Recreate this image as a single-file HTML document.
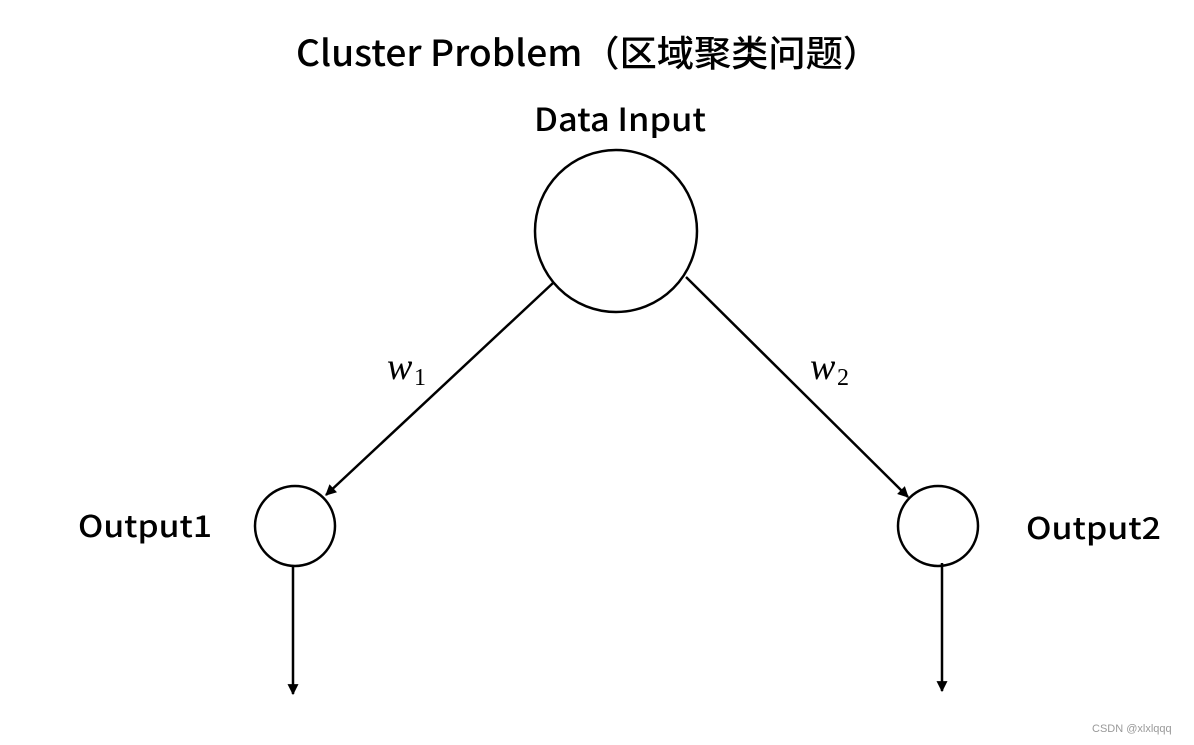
<!DOCTYPE html>
<html><head><meta charset="utf-8"><style>
html,body{margin:0;padding:0;background:#fff;}
svg{display:block;}
</style></head><body>
<svg width="1194" height="745" viewBox="0 0 1194 745" xmlns="http://www.w3.org/2000/svg">
<defs>
<marker id="ah" viewBox="0 0 10 10" refX="9" refY="5" markerWidth="12" markerHeight="11" markerUnits="userSpaceOnUse" orient="auto">
<path d="M0,0 L10,5 L0,10 z" fill="#000"/>
</marker>
</defs>
<g font-family="'Noto Sans CJK SC','Liberation Sans',sans-serif" fill="#000" font-weight="500">
<text x="296" y="66" font-size="36" textLength="584" lengthAdjust="spacingAndGlyphs">Cluster Problem（区域聚类问题）</text>
<text x="534" y="131" font-size="32" textLength="172" lengthAdjust="spacingAndGlyphs">Data Input</text>
<text x="78" y="537" font-size="30" textLength="134" lengthAdjust="spacingAndGlyphs">Output1</text>
<text x="1026" y="539" font-size="30" textLength="135" lengthAdjust="spacingAndGlyphs">Output2</text>
</g>
<g font-family="'Liberation Serif',serif" font-style="italic" fill="#000">
<text x="387" y="379" font-size="38">w</text>
<text x="414" y="385" font-size="24" font-style="normal">1</text>
<text x="810" y="379" font-size="38">w</text>
<text x="837" y="385" font-size="24" font-style="normal">2</text>
</g>
<g fill="none" stroke="#000" stroke-width="2.5">
<circle cx="616" cy="231" r="81"/>
<circle cx="295" cy="526" r="40"/>
<circle cx="938" cy="526" r="40"/>
<line x1="553" y1="283" x2="326" y2="495" marker-end="url(#ah)"/>
<line x1="686" y1="277" x2="908" y2="497" marker-end="url(#ah)"/>
<line x1="293" y1="567" x2="293" y2="694" marker-end="url(#ah)"/>
<line x1="942" y1="563" x2="942" y2="691" marker-end="url(#ah)"/>
</g>
<text x="1092" y="732" font-family="'Liberation Sans',sans-serif" font-size="11" fill="#999">CSDN @xlxlqqq</text>
</svg>
</body></html>
